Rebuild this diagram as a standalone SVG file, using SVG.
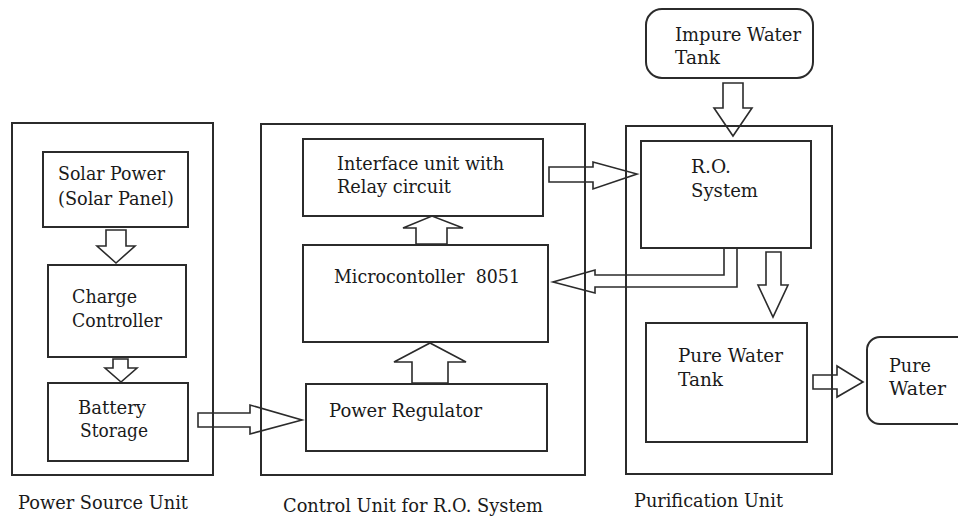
<svg xmlns="http://www.w3.org/2000/svg" width="958" height="517" viewBox="0 0 958 517">
<style>
.box{fill:none;stroke:#2b2b2b;stroke-width:2}
.unit{fill:none;stroke:#2b2b2b;stroke-width:2}
.arr{fill:none;stroke:#2b2b2b;stroke-width:1.6;stroke-linejoin:miter}
.t text{font-family:'DejaVu Serif','Liberation Serif',serif;font-size:19px;fill:#1a1a1a}
</style>
<rect width="958" height="517" fill="#ffffff"/>
<g class="t">
<g id="power-source-unit">
<rect class="unit" x="12" y="123" width="201" height="352"/>
<text x="18" y="509" textLength="170" lengthAdjust="spacingAndGlyphs">Power Source Unit</text>
</g>
<g id="solar-power">
<rect class="box" x="43" y="152" width="145" height="75"/>
<text x="58" y="180" textLength="107" lengthAdjust="spacingAndGlyphs">Solar Power</text>
<text x="58" y="205" textLength="116" lengthAdjust="spacingAndGlyphs">(Solar Panel)</text>
</g>
<g id="charge-controller">
<rect class="box" x="48" y="265" width="138" height="92"/>
<text x="72" y="303" textLength="65" lengthAdjust="spacingAndGlyphs">Charge</text>
<text x="72" y="327" textLength="90" lengthAdjust="spacingAndGlyphs">Controller</text>
</g>
<g id="battery-storage">
<rect class="box" x="48" y="383" width="140" height="78"/>
<text x="78" y="414" textLength="68" lengthAdjust="spacingAndGlyphs">Battery</text>
<text x="80" y="437" textLength="68" lengthAdjust="spacingAndGlyphs">Storage</text>
</g>
<g id="control-unit">
<rect class="unit" x="261" y="124" width="324" height="351"/>
<text x="283" y="512" textLength="260" lengthAdjust="spacingAndGlyphs">Control Unit for R.O. System</text>
</g>
<g id="interface-unit">
<rect class="box" x="303" y="139" width="240" height="77"/>
<text x="337" y="170" textLength="167" lengthAdjust="spacingAndGlyphs">Interface unit with</text>
<text x="337" y="193" textLength="114" lengthAdjust="spacingAndGlyphs">Relay circuit</text>
</g>
<g id="microcontroller">
<rect class="box" x="303" y="245" width="245" height="97"/>
<text x="334" y="283" xml:space="preserve" textLength="186" lengthAdjust="spacingAndGlyphs">Microcontoller  8051</text>
</g>
<g id="power-regulator">
<rect class="box" x="306" y="384" width="241" height="67"/>
<text x="329" y="417" textLength="153" lengthAdjust="spacingAndGlyphs">Power Regulator</text>
</g>
<g id="purification-unit">
<rect class="unit" x="626" y="126" width="206" height="348"/>
<text x="634" y="507" textLength="149" lengthAdjust="spacingAndGlyphs">Purification Unit</text>
</g>
<g id="impure-water-tank">
<rect class="box" x="646" y="9" width="167" height="69" rx="16" ry="16"/>
<text x="675" y="41" textLength="126" lengthAdjust="spacingAndGlyphs">Impure Water</text>
<text x="675" y="64" textLength="45" lengthAdjust="spacingAndGlyphs">Tank</text>
</g>
<g id="ro-system">
<rect class="box" x="641" y="141" width="170" height="107"/>
<text x="691" y="173" textLength="40" lengthAdjust="spacingAndGlyphs">R.O.</text>
<text x="691" y="197" textLength="67" lengthAdjust="spacingAndGlyphs">System</text>
</g>
<g id="pure-water-tank">
<rect class="box" x="646" y="323" width="161" height="119"/>
<text x="678" y="362" textLength="105" lengthAdjust="spacingAndGlyphs">Pure Water</text>
<text x="678" y="386" textLength="45" lengthAdjust="spacingAndGlyphs">Tank</text>
</g>
<g id="pure-water">
<rect class="box" x="867" y="337" width="110" height="87" rx="13" ry="13"/>
<text x="889" y="372" textLength="42" lengthAdjust="spacingAndGlyphs">Pure</text>
<text x="889" y="395" textLength="57" lengthAdjust="spacingAndGlyphs">Water</text>
</g>
</g>
<g id="connectors">
<polygon class="arr" points="106,230 126,230 126,246 135,246 116,263 97,246 106,246"/>
<polygon class="arr" points="113,359 128,359 128,368 137,368 121,382 105,368 113,368"/>
<polygon class="arr" points="198,413 250,413 250,405 302,420 250,434 250,427 198,427"/>
<polygon class="arr" points="416,244 416,228 403,228 432,216 463,228 447,228 447,244"/>
<polygon class="arr" points="412,383 412,362 394,362 430,343 466,362 448,362 448,383"/>
<polygon class="arr" points="549,167 593,167 593,162 637,174 593,189 593,182 549,182"/>
<polygon class="arr" points="723,83 743,83 743,108 752,108 733,136 714,108 723,108"/>
<polyline class="arr" points="724,248 724,275 595,275 595,270 553,282 595,293 595,287 737,287 737,248"/>
<polygon class="arr" points="766,252 781,252 781,285 788,285 773,317 758,285 766,285"/>
<polygon class="arr" points="813,375 837,375 837,366 863,382 837,397 837,389 813,389"/>
</g>
</svg>
